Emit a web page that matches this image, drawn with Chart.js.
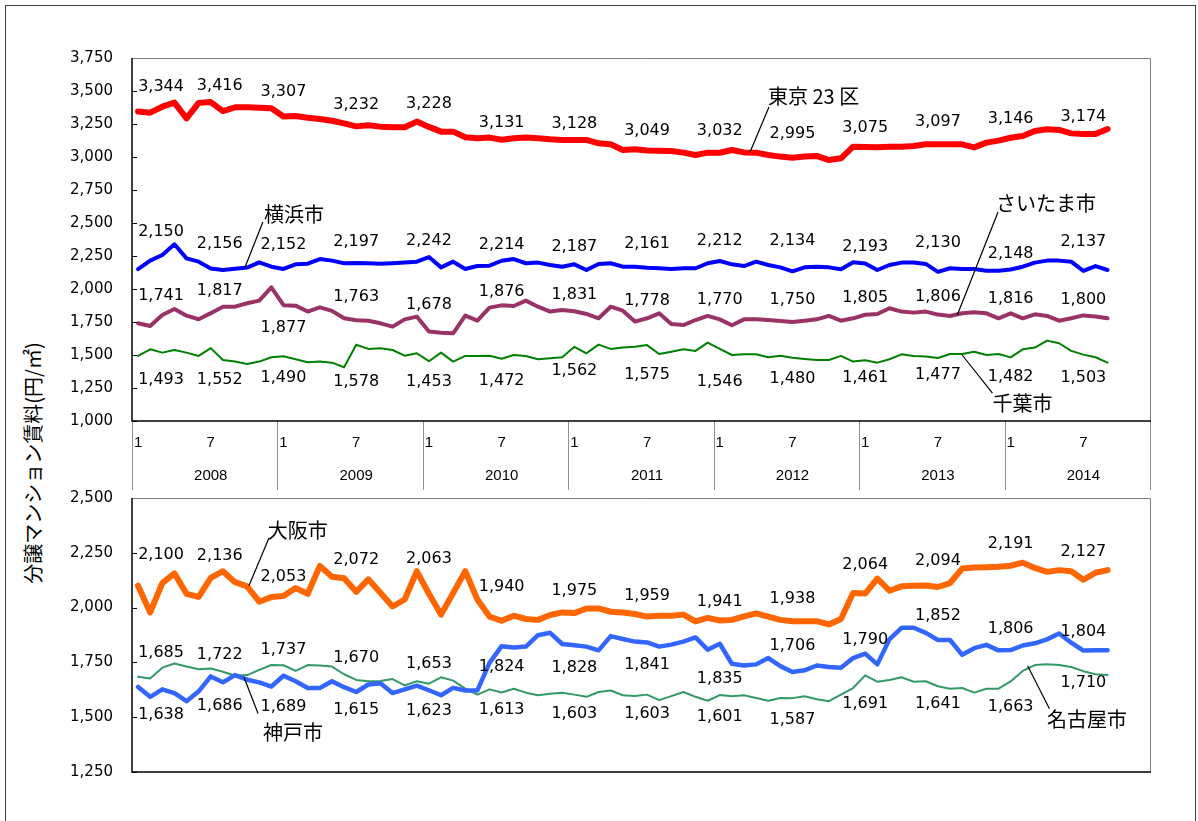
<!DOCTYPE html>
<html>
<head>
<meta charset="utf-8">
<script src="https://cdn.jsdelivr.net/npm/chart.js@4/dist/chart.umd.min.js"></script>
<style>
  html, body { margin: 0; padding: 0; background: #fff; width: 1198px; height: 821px; overflow: hidden; }
  #frame { position: absolute; left: 5px; top: 5px; width: 1189px; height: 830px; border: 1px solid #404040; }
  #cvTop { position: absolute; left: 0; top: 0; }
  #cvBottom { position: absolute; left: 0; top: 470px; }
  #ytitle {
    position: absolute; left: 32px; top: 463px;
    transform: translate(-50%, -50%) rotate(-90deg);
    font: 20px "Noto Sans CJK JP", sans-serif; color: #000; white-space: nowrap;
  }
</style>
</head>
<body>
<div id="frame"></div>
<div id="ytitle">分譲マンション賃料(円/㎡)</div>
<canvas id="cvTop" width="1198" height="500"></canvas>
<canvas id="cvBottom" width="1198" height="351"></canvas>
<script>
// ---- categories: monthly, Jan 2008 - Dec 2014 ----
const years = [2008, 2009, 2010, 2011, 2012, 2013, 2014];
const monthTicks = ['1', '7'];          // month labels shown for January and July
const categories = [];
years.forEach(y => { for (let m = 1; m <= 12; m++) categories.push(y + '/' + m); });

// ---- rents (yen per m2), Jan 2008 - Sep 2014 ----
const tokyo23 = [
  3344, 3336, 3381, 3412, 3293, 3410, 3416, 3348, 3376, 3376, 3374, 3370,
  3307, 3311, 3298, 3288, 3275, 3255, 3232, 3240, 3230, 3225, 3225, 3268,
  3228, 3192, 3192, 3149, 3142, 3147, 3131, 3142, 3147, 3142, 3134, 3129,
  3128, 3129, 3104, 3096, 3053, 3058, 3049, 3048, 3046, 3033, 3015, 3033,
  3032, 3053, 3035, 3033, 3015, 3003, 2995, 3003, 3008, 2977, 2990, 3078,
  3075, 3073, 3078, 3078, 3083, 3096, 3097, 3096, 3096, 3073, 3109, 3124,
  3146, 3159, 3197, 3210, 3205, 3179, 3174, 3174, 3212
];
const yokohama = [
  2150, 2215, 2258, 2339, 2232, 2207, 2156, 2144, 2154, 2162, 2202, 2169,
  2152, 2187, 2192, 2227, 2215, 2195, 2197, 2195, 2192, 2195, 2200, 2207,
  2242, 2164, 2207, 2152, 2174, 2177, 2214, 2227, 2195, 2200, 2182, 2169,
  2187, 2144, 2190, 2195, 2169, 2169, 2161, 2157, 2152, 2157, 2157, 2195,
  2212, 2187, 2174, 2207, 2182, 2164, 2134, 2164, 2169, 2164, 2149, 2202,
  2193, 2144, 2182, 2200, 2200, 2190, 2130, 2157, 2152, 2152, 2139, 2139,
  2148, 2169, 2200, 2215, 2215, 2207, 2137, 2174, 2144
];
const saitama = [
  1741, 1720, 1803, 1849, 1798, 1771, 1817, 1866, 1866, 1892, 1912, 2013,
  1877, 1874, 1829, 1861, 1834, 1778, 1763, 1760, 1740, 1715, 1770, 1791,
  1678, 1669, 1664, 1798, 1760, 1859, 1876, 1871, 1912, 1866, 1829, 1841,
  1831, 1811, 1778, 1866, 1836, 1753, 1778, 1816, 1735, 1727, 1765, 1796,
  1770, 1725, 1770, 1770, 1765, 1758, 1750, 1760, 1770, 1796, 1760, 1778,
  1805, 1811, 1854, 1829, 1821, 1829, 1806, 1796, 1816, 1823, 1816, 1778,
  1816, 1778, 1808, 1796, 1760, 1778, 1800, 1791, 1778
];
const chiba = [
  1493, 1543, 1518, 1538, 1518, 1493, 1552, 1462, 1450, 1432, 1450, 1483,
  1490, 1468, 1445, 1450, 1442, 1407, 1578, 1546, 1551, 1538, 1495, 1513,
  1453, 1518, 1450, 1493, 1493, 1495, 1472, 1500, 1493, 1468, 1475, 1483,
  1562, 1513, 1579, 1546, 1556, 1563, 1575, 1508, 1525, 1543, 1531, 1594,
  1546, 1500, 1505, 1505, 1483, 1495, 1480, 1470, 1462, 1462, 1493, 1450,
  1461, 1442, 1468, 1505, 1493, 1488, 1477, 1508, 1508, 1525, 1500, 1508,
  1482, 1543, 1556, 1609, 1589, 1531, 1503, 1483, 1442
];
const osaka = [
  2100, 1978, 2112, 2156, 2063, 2049, 2136, 2166, 2116, 2097, 2027, 2048,
  2053, 2089, 2063, 2190, 2141, 2134, 2072, 2129, 2068, 2005, 2037, 2166,
  2063, 1968, 2067, 2166, 2037, 1959, 1940, 1963, 1948, 1944, 1966, 1978,
  1975, 1996, 1996, 1981, 1978, 1971, 1959, 1963, 1963, 1968, 1937, 1953,
  1941, 1944, 1960, 1974, 1959, 1944, 1938, 1938, 1938, 1923, 1948, 2067,
  2064, 2132, 2077, 2097, 2100, 2101, 2094, 2112, 2178, 2183, 2184, 2186,
  2191, 2205, 2181, 2163, 2171, 2166, 2127, 2159, 2171
];
const kobe = [
  1638, 1593, 1627, 1610, 1573, 1618, 1686, 1659, 1692, 1671, 1659, 1640,
  1689, 1664, 1633, 1633, 1664, 1637, 1615, 1649, 1655, 1610, 1627, 1644,
  1623, 1600, 1634, 1622, 1622, 1748, 1824, 1818, 1822, 1874, 1885, 1834,
  1828, 1822, 1805, 1870, 1857, 1845, 1841, 1822, 1831, 1845, 1864, 1808,
  1835, 1744, 1736, 1741, 1770, 1733, 1706, 1714, 1736, 1729, 1726, 1770,
  1790, 1741, 1855, 1908, 1908, 1885, 1852, 1852, 1785, 1815, 1830, 1805,
  1806, 1827, 1837, 1855, 1882, 1840, 1804, 1805, 1805
];
const nagoya = [
  1685, 1677, 1726, 1745, 1731, 1719, 1722, 1707, 1689, 1692, 1716, 1738,
  1737, 1711, 1738, 1736, 1731, 1696, 1670, 1664, 1665, 1674, 1645, 1664,
  1653, 1682, 1667, 1630, 1603, 1627, 1613, 1630, 1612, 1600, 1607, 1612,
  1603, 1593, 1615, 1622, 1600, 1597, 1603, 1578, 1596, 1615, 1593, 1575,
  1601, 1596, 1600, 1588, 1575, 1588, 1587, 1596, 1582, 1573, 1603, 1633,
  1691, 1662, 1670, 1682, 1662, 1664, 1641, 1630, 1633, 1612, 1630, 1630,
  1663, 1711, 1738, 1741, 1738, 1729, 1710, 1696, 1693
];

// ---- value axis ranges ----
const topRange = [1000, 3750];
const bottomRange = [1250, 2500];
const valueStep = 250;

// ---- placement of the Jan/Jul value labels (pixel offsets from the point) ----
const leadDx = [23, 9];
const placeTokyo    = [-25, -16, -25, -22, -23, -17, -16, -20, -22, -24, -19, -22, -19, -17];
const placeYokohama = [-37, -25, -24, -21, -16, -16, -17, -24, -20, -30, -17, -29, -16, -29];
const placeSaitama  = [-27, -22, 23, -23, -27, -14, -16, -17, -20, -22, -17, -18, -14, -16];
const placeChiba    = [24, 32, 22, 37, 21, 22, 24, 30, 33, 21, 18, 17, 19, 23];
const placeOsaka    = [-31, -22, -19, -32, -35, -34, -22, -21, -19, -22, -29, -26, -22, -28];
const placeKobe     = [28, 29, 31, 18, 21, 21, 23, 22, 35, -26, -14, -24, -21, -19];
const placeNagoya   = [-24, -14, -15, -22, -20, 17, 19, 19, 22, 22, 29, 18, 25, 12];

// ---- series names with leader lines, in axis coordinates (category index, value) ----
const topNames = [
  { text: '東京 23 区', at: [51.98, 3462], from: [52.06, 3379], to: [50.5, 3038] },
  { text: '横浜市',     at: [10.4, 2568],  from: [10.3, 2508],  to: [8.8, 2159] },
  { text: 'さいたま市', at: [70.8, 2651],  from: [70.96, 2583], to: [67.6, 1803] },
  { text: '千葉市',     at: [70.5, 1136],  from: [68.0, 1500],  to: [70.5, 1212] }
];
const bottomNames = [
  { text: '大阪市',   at: [10.7, 2353], from: [10.8, 2318], to: [9.15, 2100] },
  { text: '神戸市',   at: [10.3, 1432], from: [8.74, 1682], to: [9.9, 1517] },
  { text: '名古屋市', at: [75.0, 1490], from: [73.4, 1735], to: [75.2, 1539] }
];

const numFont = '16px "DejaVu Sans", sans-serif';
const nameFont = '20px "Noto Sans CJK JP", sans-serif';
const fmt = v => v.toLocaleString('en-US');

// Frame of each panel: inner tick marks, grey top/right edges, black axes,
// and the year separators in the month/year label band.
const framePlugin = {
  id: 'panelFrame',
  afterDraw(chart, args, o) {
    const ctx = chart.ctx, a = chart.chartArea, ys = chart.scales.y, xs = chart.scales.x;
    ctx.save();
    ctx.strokeStyle = '#000';
    ctx.lineWidth = 1;
    ys.ticks.forEach(t => {
      const y = Math.round(ys.getPixelForValue(t.value)) + 0.5;
      ctx.beginPath(); ctx.moveTo(a.left, y); ctx.lineTo(a.left + 5, y); ctx.stroke();
    });
    ctx.strokeStyle = '#808080';
    ctx.beginPath();
    ctx.moveTo(a.left, a.top + 0.5); ctx.lineTo(a.right + 0.5, a.top + 0.5); ctx.lineTo(a.right + 0.5, a.bottom);
    ctx.stroke();
    if (o.band) {
      ctx.strokeStyle = '#909090';
      ctx.lineWidth = 1;
      for (let k = 0; k <= years.length; k++) {
        const x = Math.round(xs.getPixelForValue(12 * k - 0.5)) + 0.5;
        ctx.beginPath(); ctx.moveTo(x, a.bottom); ctx.lineTo(x, a.bottom + o.band); ctx.stroke();
      }
    }
    ctx.strokeStyle = '#000';
    ctx.lineWidth = 1.5;
    ctx.beginPath();
    ctx.moveTo(a.left, a.top); ctx.lineTo(a.left, a.bottom); ctx.lineTo(a.right + 1, a.bottom);
    ctx.stroke();
    ctx.restore();
  }
};

// Jan/Jul value labels and the series names with their leader lines.
const labelPlugin = {
  id: 'valueLabels',
  afterDatasetsDraw(chart, args, o) {
    const ctx = chart.ctx, xs = chart.scales.x, ys = chart.scales.y;
    ctx.save();
    ctx.fillStyle = '#000';
    ctx.font = numFont;
    ctx.textAlign = 'center';
    ctx.textBaseline = 'middle';
    chart.data.datasets.forEach((ds, di) => {
      const place = o.places[di];
      ds.data.forEach((v, i) => {
        if (i % 6 !== 0) return;
        const k = i / 6;
        const x = xs.getPixelForValue(i) + (leadDx[k] || 0);
        const y = ys.getPixelForValue(v) + place[k];
        ctx.fillText(fmt(v), x, y);
      });
    });
    ctx.font = nameFont;
    ctx.textAlign = 'left';
    ctx.strokeStyle = '#000';
    ctx.lineWidth = 1.2;
    o.names.forEach(n => {
      ctx.beginPath();
      ctx.moveTo(xs.getPixelForValue(n.from[0]), ys.getPixelForValue(n.from[1]));
      ctx.lineTo(xs.getPixelForValue(n.to[0]), ys.getPixelForValue(n.to[1]));
      ctx.stroke();
      ctx.fillText(n.text, xs.getPixelForValue(n.at[0]), ys.getPixelForValue(n.at[1]));
    });
    ctx.restore();
  }
};

function series(label, data, color, width) {
  return {
    label, data, borderColor: color, backgroundColor: color, borderWidth: width,
    pointRadius: 0, tension: 0, fill: false, borderJoinStyle: 'round', borderCapStyle: 'round'
  };
}

function yAxis(range) {
  return {
    type: 'linear', min: range[0], max: range[1],
    afterFit(s) { s.width = 132; },
    grid: { display: false, drawTicks: false },
    border: { display: false },
    ticks: {
      stepSize: valueStep, padding: 19, color: '#000',
      font: { family: '"DejaVu Sans", sans-serif', size: 15 },
      callback: v => fmt(v)
    }
  };
}

Chart.defaults.animation = false;

new Chart(document.getElementById('cvTop'), {
  type: 'line',
  data: {
    labels: categories,
    datasets: [
      series('東京23区', tokyo23, '#FF0000', 6),
      series('横浜市', yokohama, '#0000FF', 4),
      series('さいたま市', saitama, '#993366', 4),
      series('千葉市', chiba, '#008000', 2)
    ]
  },
  options: {
    responsive: false,
    animation: false,
    layout: { padding: { left: 0, top: 58, right: 48, bottom: 10 } },
    plugins: {
      legend: { display: false }, tooltip: { enabled: false },
      panelFrame: { band: 69 },
      valueLabels: { places: [placeTokyo, placeYokohama, placeSaitama, placeChiba], names: topNames }
    },
    scales: {
      x: {
        type: 'category', offset: true,
        afterFit(s) { s.height = 69; },
        grid: { display: false, drawTicks: false },
        border: { display: false },
        ticks: {
          autoSkip: false, maxRotation: 0, minRotation: 0, padding: 5, color: '#000',
          font: { family: '"Liberation Sans Narrow", "Liberation Sans", sans-serif', size: 15, lineHeight: 2.2 },
          callback: (v, i) => {
            const m = i % 12;
            if (m === 0) return monthTicks[0];
            if (m === 6) return [monthTicks[1], String(years[Math.floor(i / 12)])];
            return '';
          }
        }
      },
      y: yAxis(topRange)
    }
  },
  plugins: [framePlugin, labelPlugin]
});

new Chart(document.getElementById('cvBottom'), {
  type: 'line',
  data: {
    labels: categories,
    datasets: [
      series('大阪市', osaka, '#FF6600', 6),
      series('神戸市', kobe, '#3366FF', 4.5),
      series('名古屋市', nagoya, '#339966', 2)
    ]
  },
  options: {
    responsive: false,
    animation: false,
    layout: { padding: { left: 0, top: 21, right: 48, bottom: 49 } },
    plugins: {
      legend: { display: false }, tooltip: { enabled: false },
      panelFrame: { band: 0 },
      valueLabels: { places: [placeOsaka, placeKobe, placeNagoya], names: bottomNames }
    },
    scales: {
      x: { type: 'category', offset: true, display: false },
      y: yAxis(bottomRange)
    }
  },
  plugins: [framePlugin, labelPlugin]
});
</script>
</body>
</html>
